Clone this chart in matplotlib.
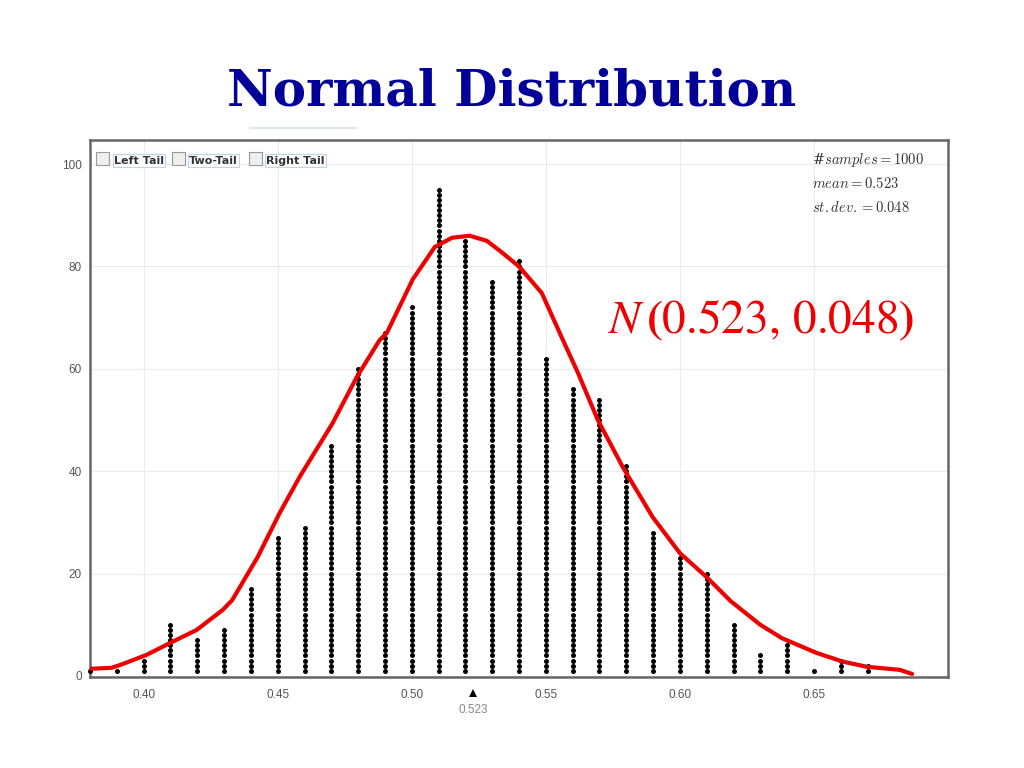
import matplotlib
matplotlib.use("Agg")
import matplotlib.pyplot as plt
from matplotlib.patches import Rectangle
from matplotlib.lines import Line2D

# dot plot: one column of dots per bin, one dot per sample
bins = [0.38, 0.39, 0.40, 0.41, 0.42, 0.43, 0.44, 0.45, 0.46, 0.47,
        0.48, 0.49, 0.50, 0.51, 0.52, 0.53, 0.54, 0.55, 0.56, 0.57,
        0.58, 0.59, 0.60, 0.61, 0.62, 0.63, 0.64, 0.65, 0.66, 0.67]
counts = [1, 1, 3, 10, 7, 9, 17, 27, 29, 45,
          60, 67, 72, 95, 85, 77, 81, 62, 56, 54,
          41, 28, 23, 20, 10, 4, 6, 1, 3, 2]

# red density curve
curve_x = [0.3800, 0.3880, 0.3910, 0.4010, 0.4097, 0.4198, 0.4295, 0.4330,
           0.4425, 0.4507, 0.4582, 0.4705, 0.4795, 0.4880, 0.4907, 0.5004,
           0.5086, 0.5150, 0.5216, 0.5280, 0.5330, 0.5400, 0.5485, 0.5564,
           0.5620, 0.5694, 0.5787, 0.5899, 0.6000, 0.6100, 0.6190, 0.6300,
           0.6380, 0.6510, 0.6608, 0.6697, 0.6820, 0.6866]
curve_y = [1.4, 1.6, 2.1, 4.1, 6.4, 9.0, 12.9, 14.8,
           23.2, 31.8, 38.9, 49.4, 58.4, 65.6, 67.0, 77.5,
           83.8, 85.6, 86.0, 85.0, 83.0, 80.0, 74.8, 65.6,
           59.2, 50.0, 40.8, 31.0, 24.0, 19.3, 14.6, 10.0,
           7.4, 4.5, 2.8, 1.8, 1.2, 0.4]

x_ticks = [0.40, 0.45, 0.50, 0.55, 0.60, 0.65]
y_ticks = [0, 20, 40, 60, 80, 100]
mean_val = 0.523
stats_lines = [r"#$samples = 1000$", r"$mean = 0.523$", r"$st.dev. = 0.048$"]
tail_labels = ["Left Tail", "Two-Tail", "Right Tail"]

W, H = 1024, 768
fig = plt.figure(figsize=(W / 100, H / 100), dpi=100)


def fx(px):
    return px / W


def fy(py):
    return 1 - py / H


fig.text(0.5, fy(92), "Normal Distribution", ha="center", va="center",
         fontsize=36, fontweight="bold", family="DejaVu Serif", color="#000099")
fig.add_artist(Line2D([fx(250), fx(356)], [fy(128), fy(128)], color="#dbe6f2", lw=1.5))

ax = fig.add_axes([fx(90), fy(677), fx(948) - fx(90), fy(140) - fy(677)])
ax.set_xlim(0.38, 0.70)
ax.set_ylim(-0.2, 104.7)

# dots
dx, dy = [], []
for b, c in zip(bins, counts):
    for k in range(1, c + 1):
        dx.append(b)
        dy.append(k)
ax.plot(dx, dy, "o", color="black", ms=3.6, mew=0, zorder=3, clip_on=False)

ax.plot(curve_x, curve_y, color="#ee0000", lw=3, zorder=4, solid_capstyle="round")

ax.set_xticks(x_ticks)
ax.set_xticklabels(["%.2f" % t for t in x_ticks])
ax.set_yticks(y_ticks)
ax.tick_params(length=0, labelsize=8.5, labelcolor="#555555", pad=9)
ax.tick_params(axis="y", pad=6)
for lbl in ax.get_xticklabels() + ax.get_yticklabels():
    lbl.set_family("Liberation Sans")
ax.grid(True, color="#ebebeb", lw=0.8)
ax.set_axisbelow(True)
for s in ax.spines.values():
    s.set_color("#666666")
    s.set_linewidth(1.8)

# mean marker under the axis
trans = ax.get_xaxis_transform()
ax.plot([mean_val], [-0.03], marker="^", color="black", ms=6, mew=0,
        transform=trans, clip_on=False)
ax.text(mean_val, -0.062, "%.3f" % mean_val, transform=trans, ha="center", va="center",
        fontsize=8.5, color="#888888", family="Liberation Sans")

# stats block
for i, s in enumerate(stats_lines):
    fig.text(fx(812), fy(160 + 24 * i), s, ha="left", va="center", fontsize=10.5,
             color="#333333", math_fontfamily="cm", family="DejaVu Serif")

# N(mean, sd) label
ax.text(0.5731, 69.5, r"$N\,\mathbf{(}0.523,\,0.048\mathbf{)}$", ha="left", va="center",
        fontsize=34, color="#ee0000", math_fontfamily="stix")

# checkbox row
box_x = [96, 172, 249]
lab_x = [114, 189, 266]
for bx, lx, t in zip(box_x, lab_x, tail_labels):
    fig.add_artist(Rectangle((fx(bx), fy(165)), fx(13), fy(0) - fy(13),
                             facecolor="#eeeeee", edgecolor="#999999", lw=0.8))
    fig.text(fx(lx), fy(160.5), t, ha="left", va="center", fontsize=8, fontweight="bold",
             color="#333333", family="DejaVu Sans",
             bbox=dict(boxstyle="square,pad=0.1", facecolor="white", edgecolor="#bcd4ee", lw=0.8))

fig.savefig("out.png", dpi=100)
